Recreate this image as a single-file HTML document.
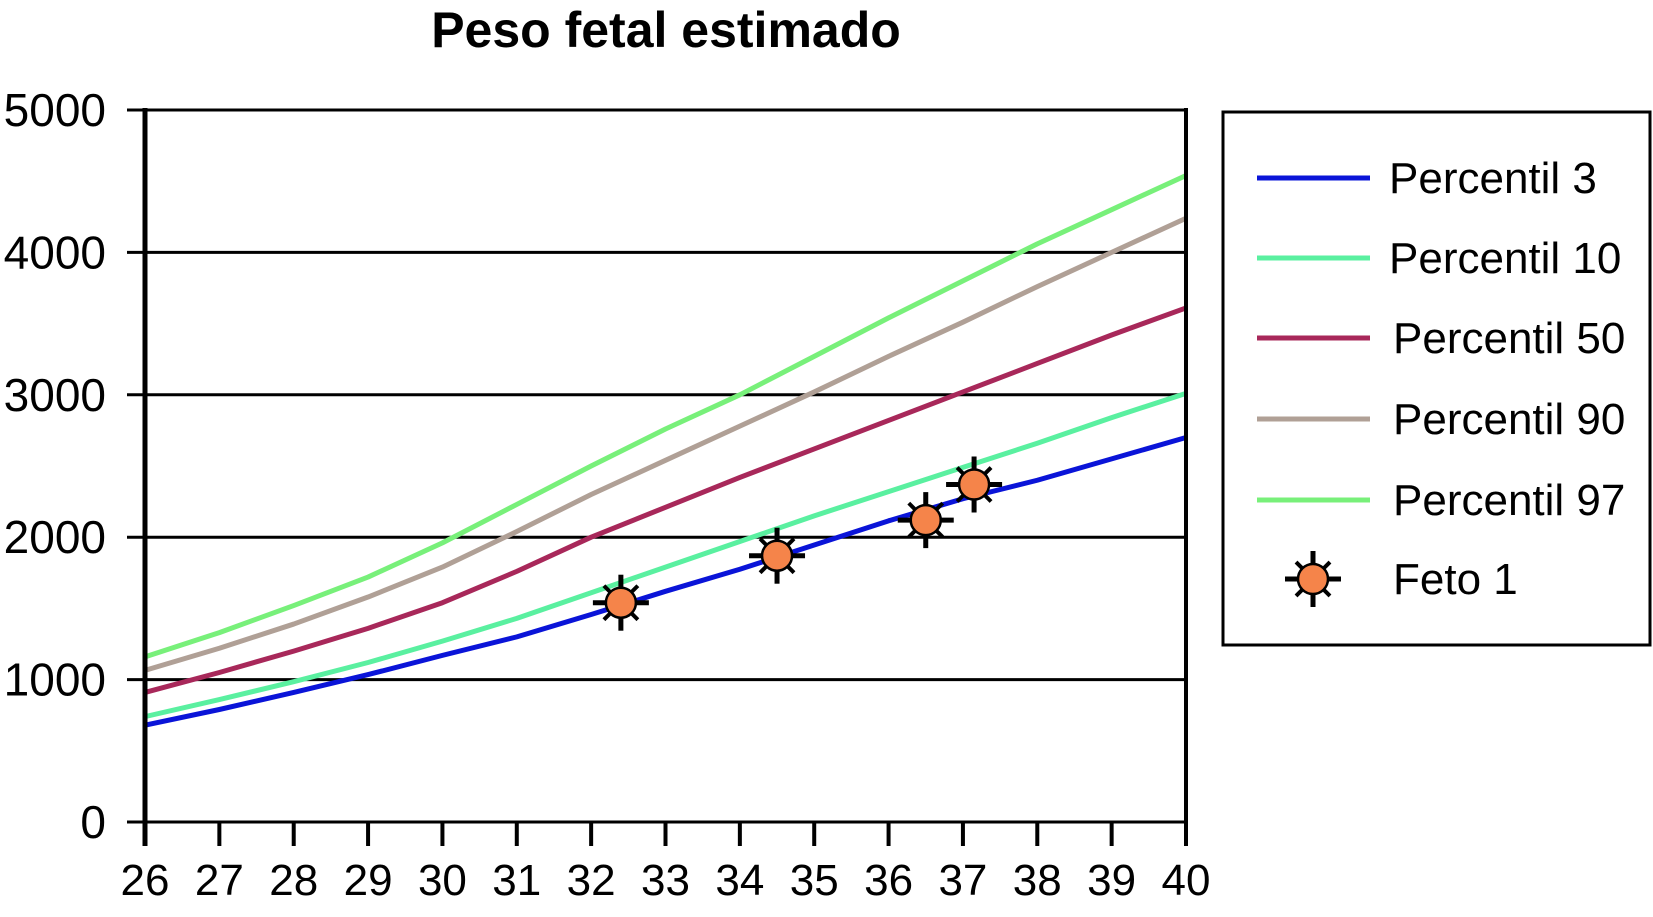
<!DOCTYPE html>
<html><head><meta charset="utf-8"><style>
body{margin:0;background:#fff;}
svg{display:block;font-family:"Liberation Sans",Arial,sans-serif;}
</style></head><body>
<svg id="chart" width="1653" height="917">
<text x="666" y="47" text-anchor="middle" font-size="50" font-weight="bold">Peso fetal estimado</text>
<g id="grid"></g><g id="series"></g><g id="axes"></g>
<g>
<rect x="1223" y="112" width="427" height="533" fill="#fff" stroke="#000" stroke-width="3"/>
<g id="legend"></g>
</g>
</svg>
<script>
const weeks=[26,27,28,29,30,31,32,33,34,35,36,37,38,39,40];
const p3=[680,790,910,1035,1170,1300,1457,1620,1775,1945,2115,2270,2400,2550,2700];
const p10=[740,860,985,1120,1270,1430,1610,1790,1970,2150,2320,2490,2660,2840,3010];
const p50=[910,1050,1200,1360,1540,1760,2000,2210,2420,2620,2820,3020,3220,3420,3610];
const p90=[1065,1220,1390,1580,1790,2040,2300,2540,2780,3020,3270,3510,3760,4000,4240];
const p97=[1160,1330,1520,1720,1960,2230,2500,2760,3000,3270,3540,3800,4060,4300,4540];
const fetoX=[32.4,34.5,36.5,37.15];
const fetoY=[1540,1870,2120,2370];
const yTicks=[0,1000,2000,3000,4000,5000];
const xTicks=[26,27,28,29,30,31,32,33,34,35,36,37,38,39,40];
const NS="http://www.w3.org/2000/svg";
const X0=145,X1=1186,Y0=822,Y1=110;
const sx=v=>X0+(v-26)/(40-26)*(X1-X0);
const sy=v=>Y0-v/5000*(Y0-Y1);
function mk(t,a,p){const e=document.createElementNS(NS,t);for(const k in a)e.setAttribute(k,a[k]);p.appendChild(e);return e;}
const grid=document.getElementById('grid'),axes=document.getElementById('axes'),ser=document.getElementById('series'),leg=document.getElementById('legend');
yTicks.forEach(v=>{
 const l=mk('line',{x1:127,x2:X1,y1:sy(v),y2:sy(v),stroke:'#000','stroke-width':3},grid);
 
 
 const t=mk('text',{x:106,y:sy(v)+16,'text-anchor':'end','font-size':46},axes);
 t.textContent=v;
 
 
});
const ya=mk('line',{x1:X0,x2:X0,y1:Y1-2,y2:Y0+24,stroke:'#000','stroke-width':5},axes);


const ra=mk('line',{x1:X1,x2:X1,y1:Y1-2,y2:Y0+24,stroke:'#000','stroke-width':4},axes);


xTicks.forEach(v=>{
 const l=mk('line',{x1:sx(v),x2:sx(v),y1:Y0,y2:Y0+24,stroke:'#000','stroke-width':4},axes);
 
 
 const t=mk('text',{x:sx(v),y:895,'text-anchor':'middle','font-size':44},axes);
 t.textContent=v;
 
 
});
const series=[['percentil-3',p3,'#0a14d8','Percentil 3'],['percentil-10',p10,'#5af0a0','Percentil 10'],['percentil-50',p50,'#a8285a','Percentil 50'],['percentil-90',p90,'#b0a096','Percentil 90'],['percentil-97',p97,'#78f07a','Percentil 97']];
series.forEach(([n,d,c])=>{
 const pts=d.map((v,i)=>sx(weeks[i])+','+sy(v)).join(' ');
 const p=mk('polyline',{points:pts,fill:'none',stroke:c,'stroke-width':5,'stroke-linejoin':'round'},ser);
 
 
});
function marker(cx,cy,parent,name){
 const g=mk('g',{},parent);
 
 
 for(let k=0;k<8;k++){const a=k*Math.PI/4;const r1=k%2?24:28;
  mk('line',{x1:cx,y1:cy,x2:cx+r1*Math.cos(a),y2:cy+r1*Math.sin(a),stroke:'#000','stroke-width':k%2?4:5},g);}
 mk('circle',{cx:cx,cy:cy,r:15,fill:'#f5844a',stroke:'#000','stroke-width':2.5},g);
}
fetoX.forEach((x,i)=>marker(sx(x),sy(fetoY[i]),ser,'feto-point-'+(i+1)));
const rows=[178,258,338,419,500];
series.forEach(([n,d,c,lab],i)=>{
 const l=mk('line',{x1:1257,x2:1370,y1:rows[i],y2:rows[i],stroke:c,'stroke-width':5},leg);
 
 
 const t=mk('text',{x:i<2?1389:1393,y:rows[i]+15,'font-size':44},leg);
 t.textContent=lab;
 
 
});
marker(1313,579,leg,'legend-marker-feto-1');
const ft=mk('text',{x:1393,y:594,'font-size':44},leg);
ft.textContent='Feto 1';


</script>
</body></html>
